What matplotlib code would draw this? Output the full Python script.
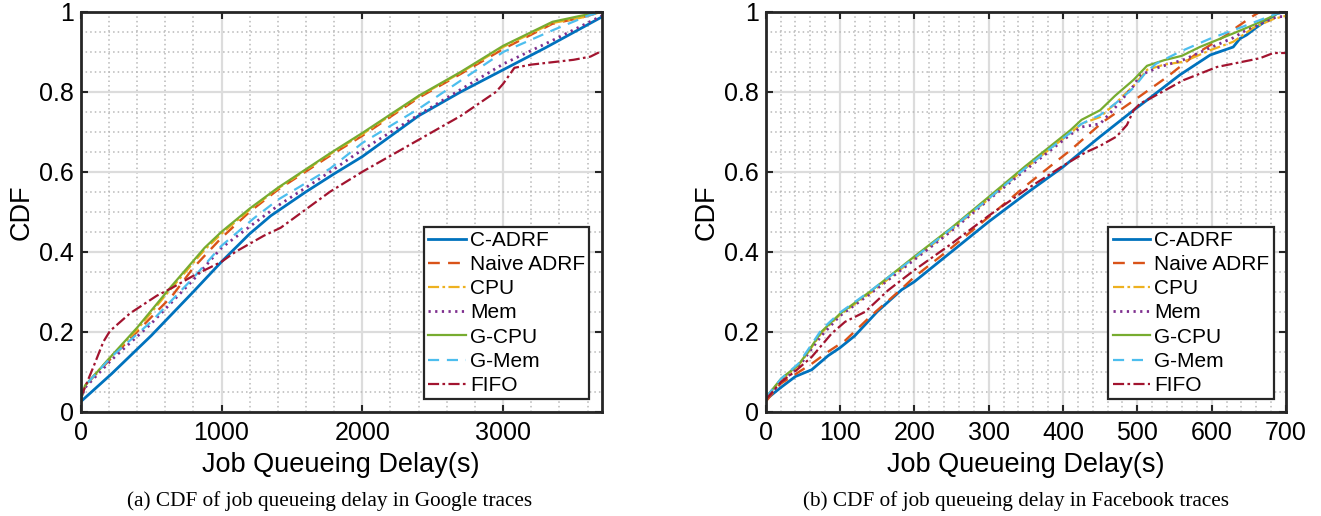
import numpy as np
import matplotlib
matplotlib.use("Agg")
import matplotlib.pyplot as plt

plt.rcParams['font.family'] = ['Liberation Sans', 'DejaVu Sans']

# legend labels, in plotting order
labels = ['C-ADRF', 'Naive ADRF', 'CPU', 'Mem', 'G-CPU', 'G-Mem', 'FIFO']

# ---- (a) Google traces : delay (s) vs CDF
g_cadrf_x = [0, 220, 500, 800, 1000, 1200, 1350, 1600, 1800, 2000, 2400, 2700, 3000, 3300, 3700]
g_cadrf_y = [0.025, 0.095, 0.19, 0.30, 0.375, 0.445, 0.49, 0.55, 0.595, 0.638, 0.74, 0.80, 0.855, 0.91, 0.987]

g_naive_x = [0, 30, 220, 400, 650, 800, 1000, 1200, 1400, 1770, 2000, 2400, 2700, 3000, 3350, 3550, 3700]
g_naive_y = [0.03, 0.065, 0.135, 0.20, 0.29, 0.36, 0.435, 0.50, 0.555, 0.64, 0.69, 0.785, 0.845, 0.907, 0.97, 0.985, 1.0]

g_cpu_x = [0, 30, 220, 400, 635, 880, 1000, 1200, 1400, 1770, 2000, 2400, 2700, 3000, 3350, 3550, 3700]
g_cpu_y = [0.03, 0.065, 0.14, 0.205, 0.305, 0.405, 0.445, 0.505, 0.558, 0.644, 0.694, 0.788, 0.848, 0.912, 0.972, 0.985, 1.0]

g_mem_x = [0, 30, 220, 500, 800, 1000, 1227, 1400, 1771, 2000, 2411, 3003, 3359, 3700]
g_mem_y = [0.03, 0.06, 0.13, 0.22, 0.33, 0.41, 0.47, 0.515, 0.60, 0.655, 0.745, 0.87, 0.93, 0.99]

g_gcpu_x = [0, 30, 220, 400, 635, 880, 1000, 1200, 1400, 1770, 2000, 2400, 2700, 3000, 3350, 3550, 3700]
g_gcpu_y = [0.03, 0.065, 0.14, 0.21, 0.31, 0.41, 0.45, 0.508, 0.56, 0.646, 0.697, 0.79, 0.85, 0.915, 0.975, 0.99, 1.0]

g_gmem_x = [0, 30, 220, 500, 800, 1000, 1227, 1400, 1771, 2000, 2411, 3003, 3359, 3600, 3700]
g_gmem_y = [0.03, 0.065, 0.138, 0.225, 0.335, 0.415, 0.483, 0.53, 0.608, 0.672, 0.76, 0.90, 0.955, 0.99, 1.0]

g_fifo_x = [0, 90, 161, 208, 350, 540, 650, 800, 1000, 1100, 1300, 1420, 1770, 2000, 2400, 2700,
            2950, 3000, 3080, 3200, 3500, 3620, 3700]
g_fifo_y = [0.035, 0.112, 0.175, 0.202, 0.246, 0.29, 0.31, 0.34, 0.375, 0.40, 0.44, 0.46, 0.55, 0.60,
            0.68, 0.74, 0.80, 0.82, 0.86, 0.868, 0.88, 0.888, 0.902]

# ---- (b) Facebook traces
f_cadrf_x = [0, 20, 40, 62, 84, 100, 120, 150, 183, 200, 250, 300, 350, 400, 450, 495, 513, 557, 598,
             629, 638, 647, 661, 688, 700]
f_cadrf_y = [0.03, 0.06, 0.088, 0.105, 0.14, 0.16, 0.19, 0.25, 0.305, 0.325, 0.40, 0.475, 0.545, 0.612,
             0.688, 0.754, 0.779, 0.842, 0.892, 0.912, 0.933, 0.942, 0.962, 0.996, 1.0]

f_naive_x = [0, 20, 62, 84, 107, 143, 181, 200, 250, 300, 350, 410, 454, 499, 540, 580, 620, 634, 656,
             665, 700]
f_naive_y = [0.025, 0.07, 0.12, 0.15, 0.178, 0.242, 0.304, 0.337, 0.41, 0.487, 0.565, 0.654, 0.725,
             0.783, 0.837, 0.896, 0.942, 0.962, 0.99, 1.0, 1.0]

f_cpu_x = [0, 21, 44, 57, 75, 100, 143, 200, 250, 300, 350, 410, 425, 450, 470, 495, 513, 536, 562,
           598, 629, 656, 683, 700]
f_cpu_y = [0.035, 0.08, 0.115, 0.148, 0.197, 0.243, 0.30, 0.383, 0.455, 0.532, 0.61, 0.697, 0.72,
           0.737, 0.77, 0.815, 0.855, 0.868, 0.875, 0.904, 0.925, 0.96, 0.982, 0.99]

f_mem_x = [0, 21, 44, 57, 75, 100, 143, 200, 250, 300, 350, 410, 425, 450, 470, 495, 504, 530, 562,
           598, 629, 647, 665, 688, 700]
f_mem_y = [0.03, 0.075, 0.11, 0.145, 0.19, 0.24, 0.298, 0.38, 0.452, 0.53, 0.605, 0.693, 0.712, 0.72,
           0.76, 0.815, 0.842, 0.862, 0.88, 0.91, 0.935, 0.955, 0.97, 0.988, 0.988]

f_gcpu_x = [0, 21, 44, 57, 75, 100, 143, 200, 250, 300, 350, 410, 425, 450, 470, 495, 513, 536, 560,
            584, 629, 656, 683, 691, 700]
f_gcpu_y = [0.035, 0.083, 0.117, 0.15, 0.20, 0.245, 0.304, 0.388, 0.46, 0.537, 0.615, 0.704, 0.73,
            0.754, 0.79, 0.83, 0.865, 0.879, 0.89, 0.912, 0.946, 0.967, 0.99, 1.0, 1.0]

f_gmem_x = [0, 21, 44, 57, 75, 100, 143, 200, 250, 300, 350, 410, 425, 450, 470, 495, 510, 525, 557,
            598, 638, 688, 700]
f_gmem_y = [0.035, 0.083, 0.12, 0.155, 0.205, 0.248, 0.305, 0.385, 0.458, 0.533, 0.61, 0.698, 0.72,
            0.742, 0.77, 0.81, 0.845, 0.87, 0.90, 0.933, 0.96, 0.996, 1.0]

f_fifo_x = [0, 21, 39, 62, 89, 107, 134, 165, 200, 250, 300, 350, 400, 430, 450, 472, 486, 495, 504,
            517, 562, 607, 652, 665, 683, 700]
f_fifo_y = [0.03, 0.075, 0.10, 0.137, 0.196, 0.225, 0.25, 0.304, 0.354, 0.42, 0.49, 0.555, 0.615,
            0.648, 0.665, 0.688, 0.717, 0.754, 0.771, 0.783, 0.829, 0.862, 0.879, 0.884, 0.897, 0.897]

# MATLAB default colour order
colors = ['#0072BD', '#D95319', '#EDB120', '#7E2F8E', '#77AC30', '#4DBEEE', '#A2142F']
styles = [dict(ls='-', lw=2.0),
          dict(ls=(0, (5, 3.5)), lw=1.7),
          dict(ls=(0, (5, 1.5, 1.2, 1.5)), lw=1.6),
          dict(ls=(0, (0.8, 1.6)), lw=2.0),
          dict(ls='-', lw=1.6),
          dict(ls=(0, (5, 3.5)), lw=1.6),
          dict(ls=(0, (5, 1.5, 1.2, 1.5)), lw=1.6)]

google = [(g_cadrf_x, g_cadrf_y), (g_naive_x, g_naive_y), (g_cpu_x, g_cpu_y), (g_mem_x, g_mem_y),
          (g_gcpu_x, g_gcpu_y), (g_gmem_x, g_gmem_y), (g_fifo_x, g_fifo_y)]
facebook = [(f_cadrf_x, f_cadrf_y), (f_naive_x, f_naive_y), (f_cpu_x, f_cpu_y), (f_mem_x, f_mem_y),
            (f_gcpu_x, f_gcpu_y), (f_gmem_x, f_gmem_y), (f_fifo_x, f_fifo_y)]

fig = plt.figure(figsize=(13.21, 5.16), dpi=100)
ax1 = fig.add_axes([0.0611, 0.2021, 0.3944, 0.775])
ax2 = fig.add_axes([0.5796, 0.2021, 0.3939, 0.775])

yticks = [0, 0.2, 0.4, 0.6, 0.8, 1]
ylabels = ['0', '0.2', '0.4', '0.6', '0.8', '1']


def style_axes(ax, xmax, xmajor, xminor):
    ax.set_xlim(0, xmax)
    ax.set_ylim(0, 1)
    ax.set_xticks(np.arange(0, xmax + 1, xmajor))
    ax.set_xticks(np.arange(0, xmax + 1, xminor), minor=True)
    ax.set_yticks(yticks)
    ax.set_yticklabels(ylabels)
    ax.set_yticks(np.arange(0, 1.001, 0.05), minor=True)
    ax.grid(True, which='major', color='#dcdcdc', lw=1.6, ls='-')
    ax.grid(True, which='minor', color='#b8b8b8', lw=1.1, ls=(0, (1, 2)))
    ax.set_axisbelow(True)
    ax.tick_params(which='major', direction='in', length=5, width=1.5, top=True, right=True,
                   labelsize=18, color='#262626')
    ax.tick_params(axis='x', which='major', pad=7)
    ax.tick_params(axis='y', which='major', pad=5)
    ax.tick_params(which='minor', length=0)
    for s in ax.spines.values():
        s.set_linewidth(2.0)
        s.set_color('#262626')
    ax.set_xlabel('Job Queueing Delay(s)', fontsize=19.5, labelpad=5)
    ax.set_ylabel('CDF', fontsize=19.5, labelpad=3)


for ax, data in [(ax1, google), (ax2, facebook)]:
    for (x, y), c, st, lab in zip(data, colors, styles, labels):
        ax.plot(x, y, color=c, label=lab, **st)

style_axes(ax1, 3700, 1000, 200)
style_axes(ax2, 700, 100, 20)

for ax in (ax1, ax2):
    leg = ax.legend(loc='lower right', bbox_to_anchor=(1 - 12.5 / 521, 12.5 / 400), fontsize=15,
                    frameon=True, fancybox=False, edgecolor='#262626', framealpha=1,
                    handlelength=1.8, handletextpad=0.2, labelspacing=0.25, borderpad=0.2,
                    borderaxespad=0)
    leg.get_frame().set_linewidth(1.6)

fig.text(330 / 1321, 0.029, '(a) CDF of job queueing delay in Google traces',
         ha='center', va='center', fontsize=15.3, family='Liberation Serif')
fig.text(1016 / 1321, 0.029, '(b) CDF of job queueing delay in Facebook traces',
         ha='center', va='center', fontsize=15.3, family='Liberation Serif')

fig.savefig('out.png', dpi=100)
